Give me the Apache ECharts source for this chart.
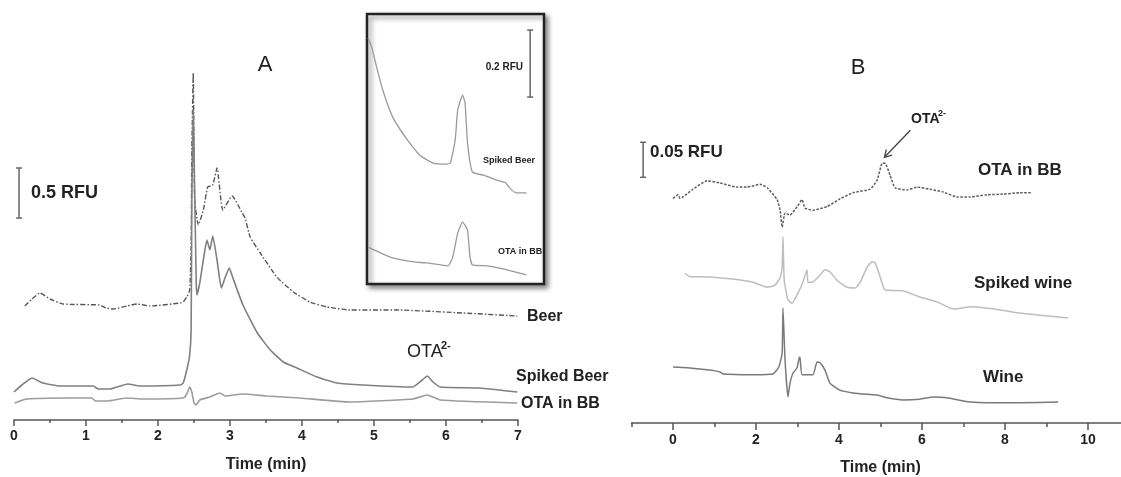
<!DOCTYPE html>
<html>
<head>
<meta charset="utf-8">
<script src="https://cdn.jsdelivr.net/npm/echarts@6/dist/echarts.min.js"></script>
<style>
  html, body { margin: 0; padding: 0; background: #fff; }
  #chart { width: 1121px; height: 477px; }
</style>
</head>
<body>
<div id="chart"></div>
<script>
// Electropherograms: [time (min), signal (RFU)], traces stacked with vertical offsets.

// Panel A – beer samples
const beerA = [[0.15,1.14],[0.25,1.21],[0.36,1.27],[0.50,1.21],[0.68,1.16],[1.19,1.15],[1.28,1.12],[1.38,1.11],[1.57,1.14],[1.71,1.16],[1.89,1.14],[2.31,1.17],[2.35,1.18],[2.40,1.23],[2.44,1.30],[2.46,1.70],[2.47,2.70],[2.49,3.47],[2.50,2.70],[2.51,2.20],[2.56,1.95],[2.63,2.10],[2.69,2.33],[2.76,2.35],[2.82,2.52],[2.90,2.10],[3.03,2.24],[3.17,2.07],[3.21,2.02],[3.28,1.83],[3.42,1.67],[3.65,1.43],[3.88,1.28],[4.11,1.18],[4.35,1.13],[4.67,1.10],[5.32,1.10],[6.24,1.07],[6.99,1.04]];
const spikedBeerA = [[0.00,0.28],[0.11,0.35],[0.25,0.42],[0.40,0.37],[0.64,0.34],[1.10,0.34],[1.17,0.31],[1.33,0.31],[1.58,0.36],[1.75,0.34],[2.31,0.35],[2.35,0.37],[2.40,0.50],[2.44,0.65],[2.46,0.90],[2.47,2.20],[2.49,3.10],[2.50,2.70],[2.53,1.40],[2.54,1.25],[2.58,1.37],[2.64,1.65],[2.68,1.80],[2.72,1.70],[2.76,1.84],[2.82,1.60],[2.88,1.32],[2.93,1.42],[2.99,1.52],[3.04,1.42],[3.18,1.15],[3.38,0.87],[3.56,0.70],[3.74,0.58],[3.93,0.52],[4.21,0.43],[4.49,0.37],[4.85,0.35],[5.54,0.33],[5.67,0.40],[5.74,0.44],[5.82,0.38],[5.92,0.33],[6.47,0.32],[6.99,0.28]];
const otaInBBA = [[0.01,0.17],[0.18,0.21],[0.74,0.22],[1.08,0.22],[1.13,0.19],[1.29,0.19],[1.57,0.22],[1.79,0.21],[2.35,0.22],[2.40,0.26],[2.44,0.33],[2.47,0.28],[2.50,0.17],[2.53,0.15],[2.58,0.20],[2.72,0.23],[2.86,0.27],[2.93,0.24],[3.18,0.26],[3.51,0.24],[3.97,0.22],[4.67,0.18],[5.54,0.21],[5.74,0.25],[5.92,0.20],[6.99,0.17]];

// Inset – enlarged OTA window
const spikedBeerInset = [[5.00,0.728],[5.03,0.701],[5.07,0.642],[5.12,0.573],[5.20,0.493],[5.32,0.424],[5.42,0.379],[5.53,0.355],[5.63,0.352],[5.67,0.355],[5.71,0.424],[5.73,0.513],[5.77,0.558],[5.79,0.534],[5.81,0.415],[5.85,0.328],[5.94,0.319],[6.05,0.304],[6.12,0.296],[6.16,0.278],[6.21,0.266],[6.29,0.266]];
const otaInBBInset = [[5.00,0.104],[5.10,0.087],[5.20,0.072],[5.37,0.060],[5.48,0.057],[5.65,0.048],[5.69,0.075],[5.73,0.146],[5.77,0.179],[5.81,0.155],[5.83,0.075],[5.85,0.051],[5.97,0.048],[6.10,0.039],[6.29,0.021]];

// Panel B – wine samples
const otaInBBB = [[0.00,0.321],[0.12,0.326],[0.17,0.321],[0.24,0.323],[0.46,0.333],[0.82,0.346],[1.13,0.343],[1.54,0.337],[1.78,0.337],[2.10,0.341],[2.27,0.336],[2.51,0.319],[2.58,0.304],[2.63,0.280],[2.70,0.300],[2.82,0.297],[2.99,0.309],[3.11,0.319],[3.18,0.307],[3.37,0.304],[3.71,0.309],[4.02,0.320],[4.34,0.329],[4.75,0.334],[4.92,0.347],[5.04,0.371],[5.11,0.371],[5.23,0.354],[5.35,0.336],[5.64,0.333],[5.88,0.337],[6.19,0.334],[6.51,0.330],[6.84,0.323],[7.16,0.323],[7.57,0.326],[7.95,0.327],[8.36,0.329],[8.65,0.329]];
const spikedWineB = [[0.29,0.214],[0.41,0.209],[0.72,0.209],[1.37,0.206],[1.93,0.201],[2.27,0.194],[2.46,0.197],[2.58,0.207],[2.63,0.223],[2.65,0.266],[2.68,0.204],[2.77,0.176],[2.87,0.171],[2.99,0.183],[3.13,0.201],[3.23,0.219],[3.25,0.201],[3.35,0.201],[3.54,0.211],[3.66,0.219],[3.78,0.216],[3.95,0.204],[4.19,0.194],[4.39,0.193],[4.51,0.201],[4.68,0.223],[4.80,0.230],[4.87,0.229],[4.99,0.209],[5.11,0.190],[5.54,0.189],[5.95,0.180],[6.36,0.173],[6.68,0.164],[6.84,0.163],[7.16,0.166],[7.57,0.164],[7.95,0.161],[8.36,0.157],[8.84,0.154],[9.52,0.150]];
const wineB = [[0.00,0.080],[0.34,0.079],[0.82,0.076],[1.13,0.073],[1.21,0.070],[1.93,0.069],[2.41,0.070],[2.55,0.080],[2.63,0.100],[2.65,0.164],[2.70,0.090],[2.77,0.037],[2.82,0.057],[2.89,0.071],[2.99,0.079],[3.04,0.093],[3.06,0.094],[3.11,0.069],[3.37,0.069],[3.47,0.087],[3.54,0.086],[3.66,0.076],[3.78,0.057],[4.02,0.047],[4.34,0.043],[4.68,0.041],[4.92,0.040],[5.16,0.036],[5.54,0.033],[5.95,0.034],[6.27,0.037],[6.60,0.036],[7.16,0.030],[7.71,0.029],[8.36,0.029],[9.28,0.030]];

// Scale bars: [time, lower end (RFU), bar size (RFU)]
const scaleBarA = [0.07, 2.02, 0.5];
const scaleBarInset = [6.32, 0.552, 0.2];
const scaleBarB = [-0.72, 0.351, 0.05];

// Tick labels
const ticksA = [0, 1, 2, 3, 4, 5, 6, 7];
const ticksB = [0, 2, 4, 6, 8, 10];

// OTA peak marked by the arrow in panel B
const otaPeakB = [5.07, 0.371];

const FONT = "'Liberation Sans', Arial, Helvetica, sans-serif";
const AXIS = '#555';
const INK = '#222';

const chart = echarts.init(document.getElementById('chart'), null, { renderer: 'canvas' });

function trace(data, x, y, color, type, width, z) {
  return {
    type: 'line', data, xAxisIndex: x, yAxisIndex: y,
    showSymbol: false, symbol: 'none', smooth: 0.15, z: z || 2,
    lineStyle: { color, type: type || 'solid', width: width || 1.5 },
    silent: true, animation: false
  };
}

function scaleBar(bar, x, y) {
  return {
    type: 'line', xAxisIndex: x, yAxisIndex: y, z: 4,
    data: [[bar[0], bar[1]], [bar[0], bar[1] + bar[2]]],
    symbol: 'rect', symbolSize: [6, 1.5], showSymbol: true,
    itemStyle: { color: '#666' }, lineStyle: { color: '#666', width: 1.5 },
    silent: true, animation: false
  };
}

const labelStyle = { color: INK, fontWeight: 'bold', fontSize: 14, fontFamily: FONT };
const nameStyle = { color: INK, fontWeight: 'bold', fontSize: 16, fontFamily: FONT };

chart.setOption({
  animation: false,
  backgroundColor: '#fff',
  grid: [
    { left: 14, top: 60, width: 504, height: 360, outerBoundsMode: 'none' },
    { left: 631.5, top: 59, width: 498, height: 364, outerBoundsMode: 'none' },
    { left: 368, top: 16, width: 172, height: 266, outerBoundsMode: 'none' }
  ],
  xAxis: [
    {
      gridIndex: 0, type: 'value', position: 'bottom', min: 0, max: 7, interval: 1,
      axisLine: { lineStyle: { color: AXIS, width: 1.5 } },
      axisTick: { length: 6, lineStyle: { color: AXIS, width: 1.5 } },
      minorTick: { show: true, splitNumber: 2, length: 3, lineStyle: { color: AXIS, width: 1.5 } },
      splitLine: { show: false }, minorSplitLine: { show: false },
      axisLabel: Object.assign({ margin: 9, customValues: ticksA }, labelStyle),
      name: 'Time (min)', nameLocation: 'middle', nameGap: 37, nameTextStyle: nameStyle
    },
    {
      gridIndex: 1, type: 'value', position: 'bottom', offset: 0, min: -1, max: 11, interval: 1,
      axisLine: { lineStyle: { color: AXIS, width: 1.5 } },
      axisTick: { length: 4, lineStyle: { color: AXIS, width: 1.5 } },
      splitLine: { show: false },
      axisLabel: { show: false },
      name: 'Time (min)', nameLocation: 'middle', nameGap: 37, nameTextStyle: nameStyle
    },
    {
      gridIndex: 1, type: 'value', position: 'bottom', offset: 0, min: -1, max: 11, interval: 1,
      axisLine: { show: false },
      axisTick: { length: 7, customValues: ticksB, lineStyle: { color: AXIS, width: 1.5 } },
      splitLine: { show: false },
      axisLabel: Object.assign({ margin: 10, customValues: ticksB }, labelStyle)
    },
    { gridIndex: 2, type: 'value', min: 5.0, max: 6.4, show: false }
  ],
  yAxis: [
    { gridIndex: 0, type: 'value', min: 0, max: 3.6, show: false },
    { gridIndex: 1, type: 'value', min: 0, max: 0.52, show: false },
    { gridIndex: 2, type: 'value', min: 0, max: 0.794, show: false }
  ],
  series: [
    trace(beerA, 0, 0, '#555', [5, 2, 1.5, 2], 1.4),
    trace(spikedBeerA, 0, 0, '#808080', 'solid', 1.6),
    trace(otaInBBA, 0, 0, '#9c9c9c', 'solid', 1.6),
    trace(spikedBeerInset, 3, 2, '#9a9a9a', 'solid', 1.3, 5),
    trace(otaInBBInset, 3, 2, '#9a9a9a', 'solid', 1.3, 5),
    trace(otaInBBB, 1, 1, '#5c5c5c', [2.5, 1.5], 1.5),
    trace(spikedWineB, 1, 1, '#bdbdbd', 'solid', 1.5),
    trace(wineB, 1, 1, '#7a7a7a', 'solid', 1.5),
    scaleBar(scaleBarA, 0, 0),
    Object.assign(scaleBar(scaleBarInset, 3, 2), { z: 6 }),
    scaleBar(scaleBarB, 1, 1)
  ]
});

// Annotation texts and the inset frame
function text(str, x, y, font, align) {
  return {
    type: 'text', x, y, z: 10, silent: true,
    style: { text: str, font, fill: INK, align: align || 'left', verticalAlign: 'middle' }
  };
}

const tip = chart.convertToPixel({ gridIndex: 1 }, otaPeakB);
const tipX = tip[0] + 1, tipY = tip[1] - 6;
const tailX = tipX + 26, tailY = tipY - 27;

chart.setOption({
  graphic: [
    {
      type: 'rect', z: 1, silent: true,
      shape: { x: 367, y: 14, width: 177, height: 270 },
      style: { fill: '#fff', stroke: '#222', lineWidth: 2.5,
               shadowBlur: 5, shadowOffsetX: 3, shadowOffsetY: 3, shadowColor: 'rgba(0,0,0,0.45)' }
    },
    text('A', 265, 65, `22px ${FONT}`, 'center'),
    text('0.5 RFU', 31, 193, `bold 18px ${FONT}`),
    text('Beer', 527, 317, `bold 16px ${FONT}`),
    text('Spiked Beer', 516, 377, `bold 16px ${FONT}`),
    text('OTA in BB', 521, 404, `bold 16px ${FONT}`),
    text('OTA', 407, 352, `18px ${FONT}`),
    text('2-', 441, 346, `bold 11px ${FONT}`),
    text('0.2 RFU', 523, 67, `bold 10px ${FONT}`, 'right'),
    text('Spiked Beer', 483, 161, `bold 9px ${FONT}`),
    text('OTA in BB', 498, 252, `bold 9px ${FONT}`),
    text('B', 858, 68, `22px ${FONT}`, 'center'),
    text('0.05 RFU', 650, 152, `bold 17px ${FONT}`),
    text('OTA', 911, 119, `bold 14px ${FONT}`),
    text('2-', 938, 114, `bold 9px ${FONT}`),
    text('OTA in BB', 978, 170, `bold 17px ${FONT}`),
    text('Spiked wine', 974, 283, `bold 17px ${FONT}`),
    text('Wine', 983, 377, `bold 17px ${FONT}`),
    {
      type: 'polyline', z: 10, silent: true,
      shape: { points: [[tailX, tailY], [tipX, tipY]] },
      style: { stroke: '#444', lineWidth: 1.3, fill: null }
    },
    {
      type: 'polyline', z: 10, silent: true,
      shape: { points: [[tipX + 7.7, tipY - 2.2], [tipX, tipY], [tipX + 1.9, tipY - 7.8]] },
      style: { stroke: '#444', lineWidth: 1.3, fill: null }
    }
  ]
});
</script>
</body>
</html>
